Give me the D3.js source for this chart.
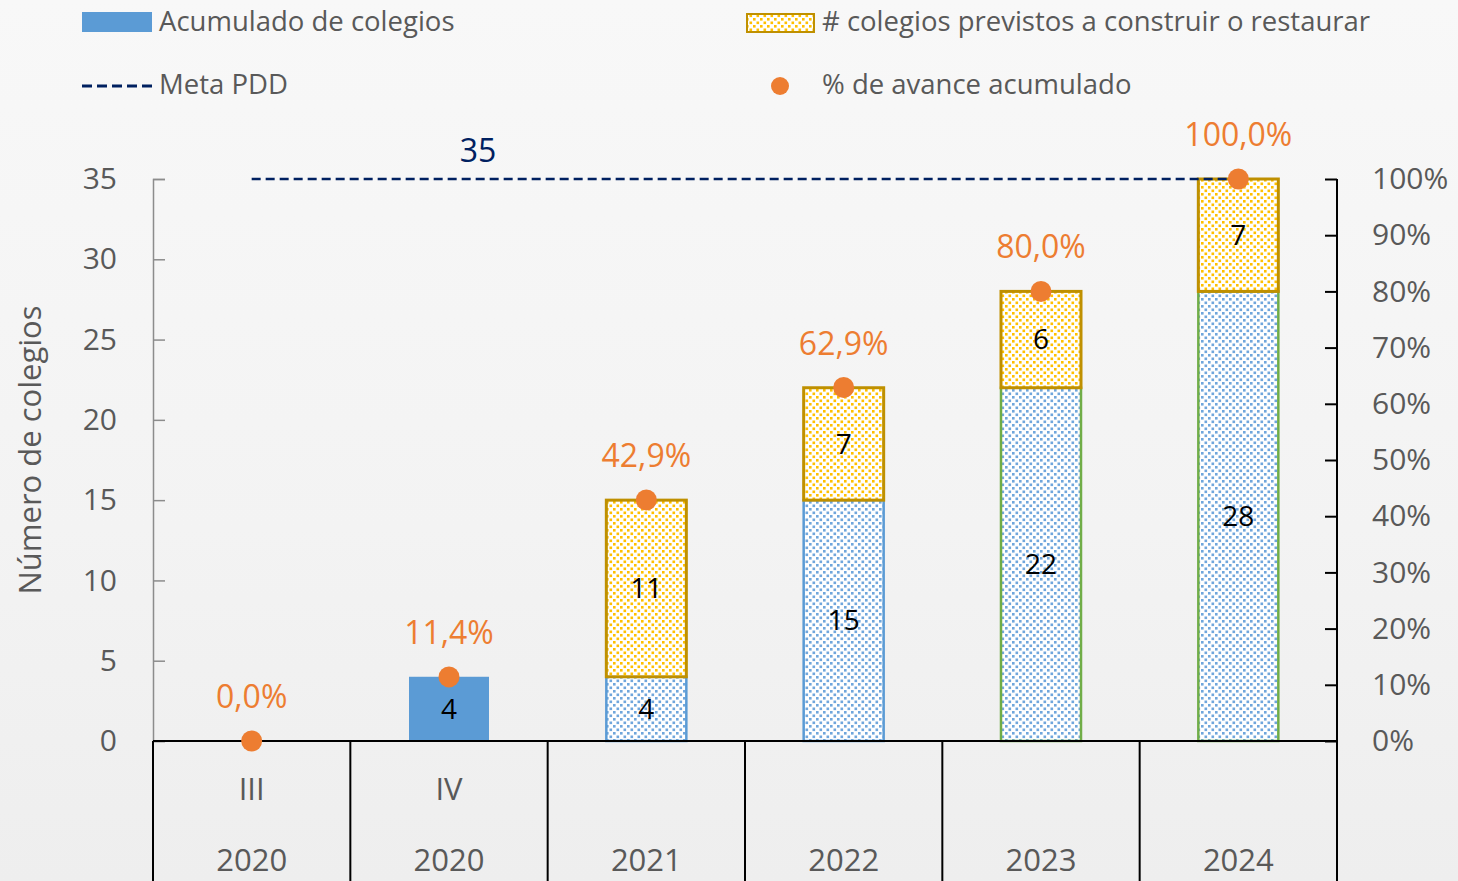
<!DOCTYPE html>
<html>
<head>
<meta charset="utf-8">
<script src="https://cdn.jsdelivr.net/npm/d3@7"></script>
<style>
  body { margin: 0; background: #f4f4f4; }
  svg { display: block; font-family: "Open Sans", sans-serif; }
</style>
</head>
<body>
<svg id="chart" width="1458" height="881"></svg>
<script>
(function () {
    // datos
    var periodos = ['III', 'IV', '', '', '', ''];
    var anios = ['2020', '2020', '2021', '2022', '2023', '2024'];
    var acumulado = [0, 4, 4, 15, 22, 28];
    var previstos = [0, 0, 11, 7, 6, 7];
    var avance = [0, 11.4, 42.9, 62.9, 80.0, 100.0];
    var meta = 35;
    var ticksIzq = [0, 5, 10, 15, 20, 25, 30, 35];
    var ticksDer = [0, 10, 20, 30, 40, 50, 60, 70, 80, 90, 100];

    var left = 153, right = 1337, top = 179, bottom = 741;
    var keys = d3.range(anios.length);

    var svg = d3.select('#chart');

    // fondo
    var defs = svg.append('defs');
    var grad = defs.append('linearGradient')
        .attr('id', 'bg').attr('x1', 0).attr('y1', 0).attr('x2', 0).attr('y2', 1);
    grad.append('stop').attr('offset', '0%').attr('stop-color', '#f8f8f8');
    grad.append('stop').attr('offset', '60%').attr('stop-color', '#f3f3f3');
    grad.append('stop').attr('offset', '100%').attr('stop-color', '#eeeeee');
    svg.append('rect').attr('width', 1458).attr('height', 881).attr('fill', 'url(#bg)');

    function dots(id, color) {
        var p = defs.append('pattern')
            .attr('id', id)
            .attr('patternUnits', 'userSpaceOnUse')
            .attr('width', 7).attr('height', 7);
        p.append('rect').attr('width', 7).attr('height', 7).attr('fill', '#ffffff');
        p.append('rect').attr('x', 0.5).attr('y', 0.5).attr('width', 2.6).attr('height', 2.6).attr('fill', color);
        p.append('rect').attr('x', 4).attr('y', 4).attr('width', 2.6).attr('height', 2.6).attr('fill', color);
    }
    dots('dotBlue', '#6fa6dc');
    dots('dotYellow', '#ffc000');

    var x = d3.scaleBand().domain(keys).range([left, right]).paddingInner(0).paddingOuter(0);
    var barW = 80;
    var y = d3.scaleLinear().domain([0, 35]).range([bottom, top]);
    var y2 = d3.scaleLinear().domain([0, 100]).range([bottom, top]);

    function cx(i) { return x(i) + x.bandwidth() / 2; }

    // eje izquierdo
    var axL = svg.append('g')
        .attr('transform', 'translate(' + left + ',0)')
        .call(d3.axisLeft(y).tickValues(ticksIzq).tickSize(-12).tickPadding(36));
    axL.select('.domain').attr('stroke', '#8c8c8c').attr('stroke-width', 1.5);
    axL.selectAll('.tick line').attr('stroke', '#8c8c8c').attr('stroke-width', 1.5);
    axL.selectAll('text').attr('fill', '#595959').style('font-size', '30px')
        .style('font-family', '"Open Sans", sans-serif');

    // eje derecho
    var axR = svg.append('g')
        .attr('transform', 'translate(' + right + ',0)')
        .call(d3.axisRight(y2).tickValues(ticksDer).tickSize(-12).tickPadding(35)
            .tickFormat(function (d) { return d + '%'; }));
    axR.select('.domain').remove();
    axR.selectAll('.tick line').attr('stroke', '#000').attr('stroke-width', 2);
    axR.selectAll('text').attr('fill', '#595959').style('font-size', '30px')
        .style('font-family', '"Open Sans", sans-serif');

    // titulo eje
    svg.append('text')
        .attr('transform', 'translate(41,450) rotate(-90)')
        .attr('text-anchor', 'middle')
        .attr('fill', '#595959')
        .style('font-size', '31px')
        .text('Número de colegios');

    // barras acumulado
    svg.selectAll('.acum')
        .data(keys.filter(function (i) { return acumulado[i] > 0; }))
        .enter().append('rect')
        .attr('class', 'acum')
        .attr('x', function (i) { return cx(i) - barW / 2; })
        .attr('y', function (i) { return y(acumulado[i]); })
        .attr('width', barW)
        .attr('height', function (i) { return y(0) - y(acumulado[i]); })
        .attr('fill', function (i) { return i === 1 ? '#5b9bd5' : 'url(#dotBlue)'; })
        .attr('stroke', function (i) { return i === 1 ? 'none' : (i >= 4 ? '#70ad47' : '#5b9bd5'); })
        .attr('stroke-width', 2.5);

    // barras previstos
    svg.selectAll('.prev')
        .data(keys.filter(function (i) { return previstos[i] > 0; }))
        .enter().append('rect')
        .attr('class', 'prev')
        .attr('x', function (i) { return cx(i) - barW / 2; })
        .attr('y', function (i) { return y(acumulado[i] + previstos[i]); })
        .attr('width', barW)
        .attr('height', function (i) { return y(acumulado[i]) - y(acumulado[i] + previstos[i]); })
        .attr('fill', 'url(#dotYellow)')
        .attr('stroke', '#bf9000')
        .attr('stroke-width', 3);

    // etiquetas de barras
    svg.selectAll('.labA')
        .data(keys.filter(function (i) { return acumulado[i] > 0; }))
        .enter().append('text')
        .attr('x', cx)
        .attr('y', function (i) { return y(acumulado[i] / 2); })
        .attr('dy', '0.35em')
        .attr('text-anchor', 'middle')
        .style('font-size', '28px')
        .attr('fill', '#000')
        .text(function (i) { return acumulado[i]; });

    svg.selectAll('.labP')
        .data(keys.filter(function (i) { return previstos[i] > 0; }))
        .enter().append('text')
        .attr('x', cx)
        .attr('y', function (i) { return y(acumulado[i] + previstos[i] / 2); })
        .attr('dy', '0.35em')
        .attr('text-anchor', 'middle')
        .style('font-size', '28px')
        .attr('fill', '#000')
        .text(function (i) { return previstos[i]; });

    // eje categorias
    svg.append('line')
        .attr('x1', left).attr('x2', right)
        .attr('y1', bottom).attr('y2', bottom)
        .attr('stroke', '#000').attr('stroke-width', 2);
    svg.selectAll('.sep')
        .data(keys.concat([keys.length]))
        .enter().append('line')
        .attr('x1', function (i) { return i < keys.length ? x(i) : right; })
        .attr('x2', function (i) { return i < keys.length ? x(i) : right; })
        .attr('y1', function (i) { return i === keys.length ? top : bottom; })
        .attr('y2', 881)
        .attr('stroke', '#000').attr('stroke-width', 2);

    svg.selectAll('.per')
        .data(keys)
        .enter().append('text')
        .attr('x', cx).attr('y', 800)
        .attr('text-anchor', 'middle')
        .attr('fill', '#595959')
        .style('font-size', '31px')
        .text(function (i) { return periodos[i]; });

    svg.selectAll('.anio')
        .data(keys)
        .enter().append('text')
        .attr('x', cx).attr('y', 871)
        .attr('text-anchor', 'middle')
        .attr('fill', '#595959')
        .style('font-size', '31px')
        .text(function (i) { return anios[i]; });

    // meta
    svg.append('line')
        .attr('x1', cx(0)).attr('x2', cx(keys.length - 1))
        .attr('y1', y(meta)).attr('y2', y(meta))
        .attr('stroke', '#002060').attr('stroke-width', 2.5)
        .attr('stroke-dasharray', '9,5');
    svg.append('text')
        .attr('x', 478).attr('y', y(meta) - 17)
        .attr('text-anchor', 'middle')
        .attr('fill', '#002060')
        .style('font-size', '32px')
        .text(meta);

    // avance
    svg.selectAll('.pt')
        .data(keys)
        .enter().append('circle')
        .attr('cx', cx)
        .attr('cy', function (i) { return y2(avance[i]); })
        .attr('r', 10.5)
        .attr('fill', '#ed7d31');
    svg.selectAll('.ptLab')
        .data(keys)
        .enter().append('text')
        .attr('x', cx)
        .attr('y', function (i) { return y2(avance[i]) - 33; })
        .attr('text-anchor', 'middle')
        .attr('fill', '#ed7d31')
        .style('font-size', '32px')
        .text(function (i) { return avance[i].toFixed(1).replace('.', ',') + '%'; });

    // leyenda
    var lg = svg.append('g').style('font-size', '27.5px').attr('fill', '#595959');
    lg.append('rect').attr('x', 82).attr('y', 12).attr('width', 70).attr('height', 20).attr('fill', '#5b9bd5');
    lg.append('text').attr('x', 159).attr('y', 31).text('Acumulado de colegios');
    lg.append('line').attr('x1', 82).attr('x2', 152).attr('y1', 86).attr('y2', 86)
        .attr('stroke', '#002060').attr('stroke-width', 3).attr('stroke-dasharray', '10,5');
    lg.append('text').attr('x', 159).attr('y', 94).text('Meta PDD');
    lg.append('rect').attr('x', 747).attr('y', 14).attr('width', 67).attr('height', 18)
        .attr('fill', 'url(#dotYellow)').attr('stroke', '#bf9000').attr('stroke-width', 2);
    lg.append('text').attr('x', 822).attr('y', 31).text('# colegios previstos a construir o restaurar');
    lg.append('circle').attr('cx', 780).attr('cy', 86).attr('r', 9).attr('fill', '#ed7d31');
    lg.append('text').attr('x', 822).attr('y', 94).text('% de avance acumulado');
}());
</script>
</body>
</html>
